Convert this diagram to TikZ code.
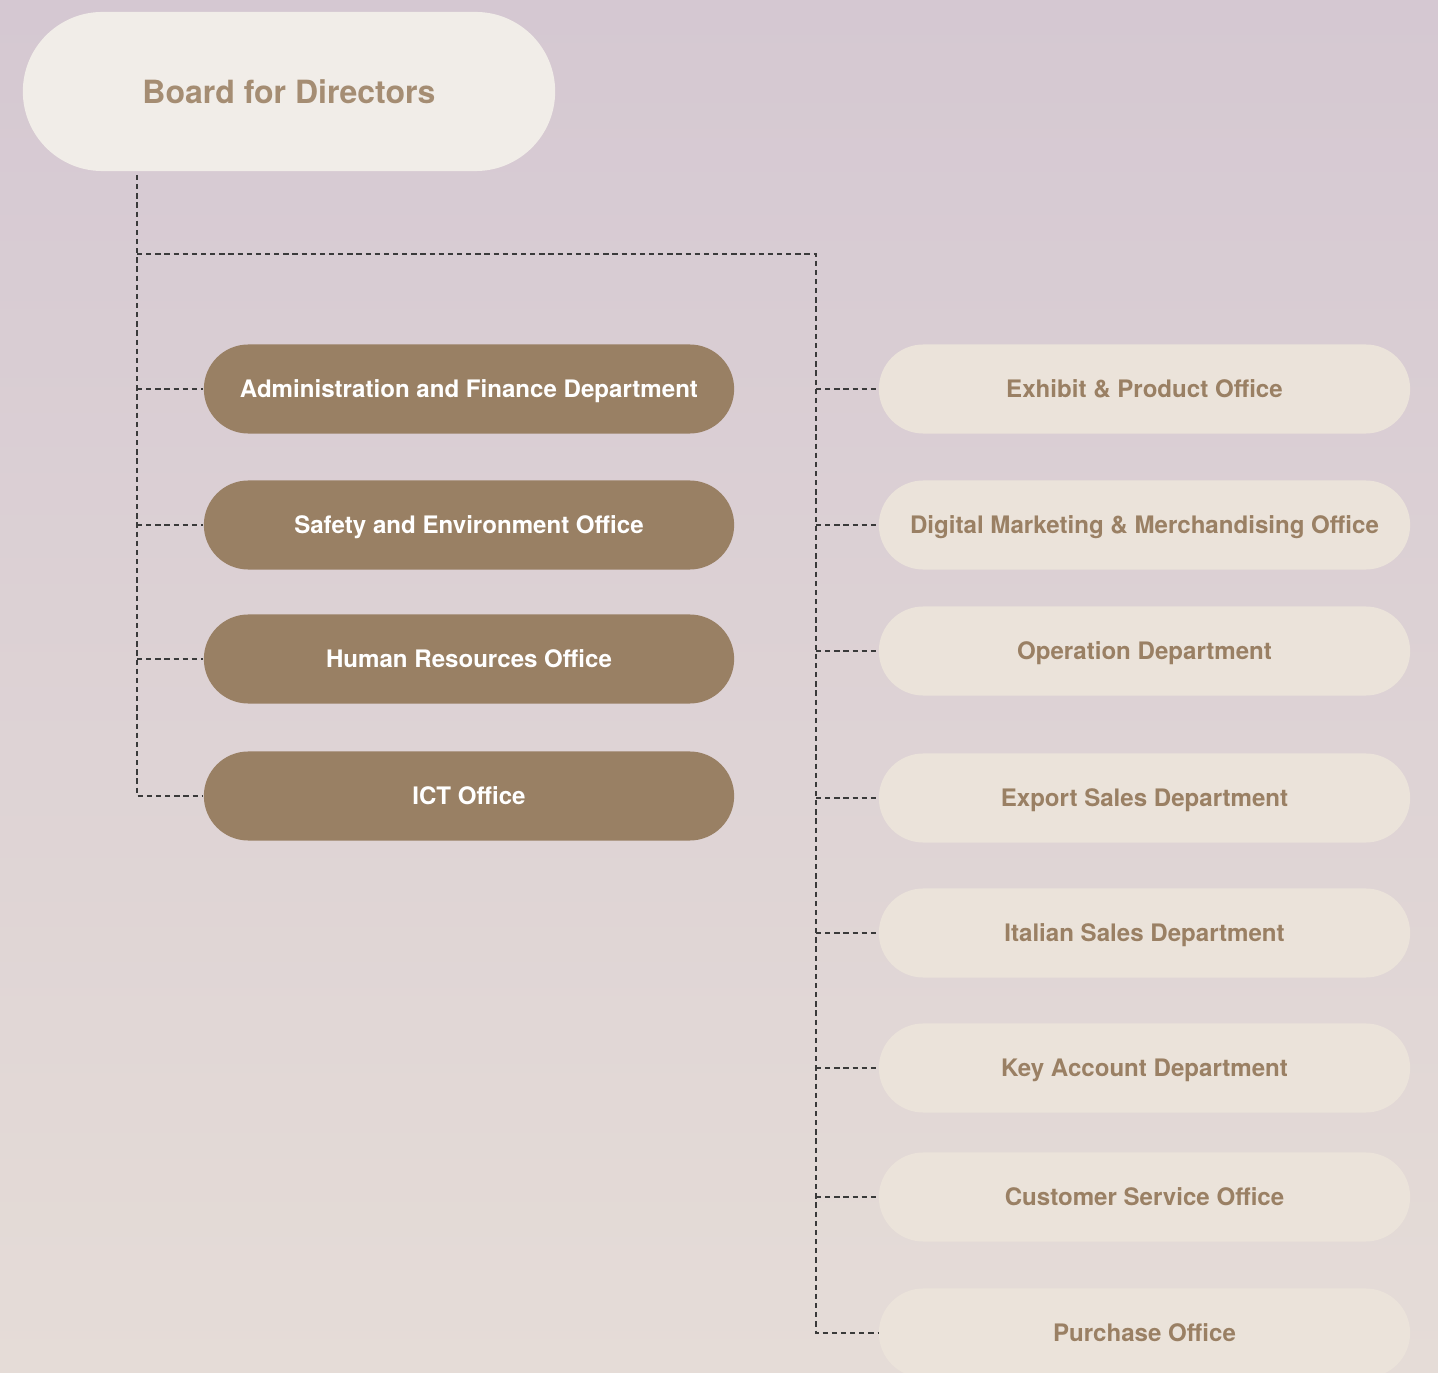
\documentclass[tikz,border=0pt]{standalone}
\usepackage{fontspec}
\setmainfont{TeX Gyre Heros}
\definecolor{bgtop}{HTML}{D5C8D2}
\definecolor{bgbottom}{HTML}{E5DCD7}
\definecolor{boardfill}{HTML}{F1EDE8}
\definecolor{boardtext}{HTML}{A58D73}
\definecolor{stafffill}{HTML}{998064}
\definecolor{linefill}{HTML}{EBE3DA}
\definecolor{linetext}{HTML}{9A8064}
\definecolor{wire}{HTML}{3A3A3A}
\tikzset{
  board/.style={fill=boardfill, text=boardtext, rounded corners=0.795cm,
    minimum width=5.32cm, minimum height=1.59cm, font=\fontsize{9.1}{11}\selectfont\bfseries},
  staff/.style={fill=stafffill, text=white, rounded corners=0.445cm,
    minimum width=5.3cm, minimum height=0.89cm, text height=0.7em, text depth=0.23em,
    font=\fontsize{6.85}{8}\selectfont\bfseries},
  ops/.style={fill=linefill, text=linetext, rounded corners=0.445cm,
    minimum width=5.31cm, minimum height=0.89cm, text height=0.7em, text depth=0.23em,
    font=\fontsize{6.85}{8}\selectfont\bfseries},
  wire/.style={draw=wire, line width=0.3pt, dash pattern=on 1.5pt off 1.1pt}
}
\begin{document}
\begin{tikzpicture}[x=0.01cm, y=-0.01cm]
  % page and background
  \useasboundingbox (0, 0) rectangle (1438, 1373);
  \clip (0, 0) rectangle (1438, 1373);
  \shade [top color=bgtop, bottom color=bgbottom] (0, 0) rectangle (1438, 1373);

  \node [board] (board) at (289, 91.5) {Board for Directors};

  % staff offices
  \node [staff] (admin) at (469, 389) {Administration and Finance Department};
  \node [staff] (safety) at (469, 525) {Safety and Environment Office};
  \node [staff] (hr) at (469, 659) {Human Resources Office};
  \node [staff] (ict) at (469, 796) {ICT Office};

  % line departments
  \node [ops] (exhibit) at (1144.5, 389) {Exhibit \& Product Office};
  \node [ops] (digital) at (1144.5, 525) {Digital Marketing \& Merchandising Office};
  \node [ops] (operation) at (1144.5, 651) {Operation Department};
  \node [ops] (export) at (1144.5, 798) {Export Sales Department};
  \node [ops] (italian) at (1144.5, 933) {Italian Sales Department};
  \node [ops] (keyacc) at (1144.5, 1068) {Key Account Department};
  \node [ops] (customer) at (1144.5, 1197) {Customer Service Office};
  \node [ops] (purchase) at (1144.5, 1333) {Purchase Office};

  % dashed links
  \coordinate (lefttrunk) at (137, 175);
  \coordinate (righttrunk) at (816, 254);
  \draw [wire] (lefttrunk) |- (ict.west);
  \draw [wire] (lefttrunk |- righttrunk) -- (righttrunk) |- (purchase.west);
  \foreach \n in {admin, safety, hr}
    \draw [wire] (lefttrunk |- \n.west) -- (\n.west);
  \foreach \n in {exhibit, digital, operation, export, italian, keyacc, customer}
    \draw [wire] (righttrunk |- \n.west) -- (\n.west);
\end{tikzpicture}
\end{document}
